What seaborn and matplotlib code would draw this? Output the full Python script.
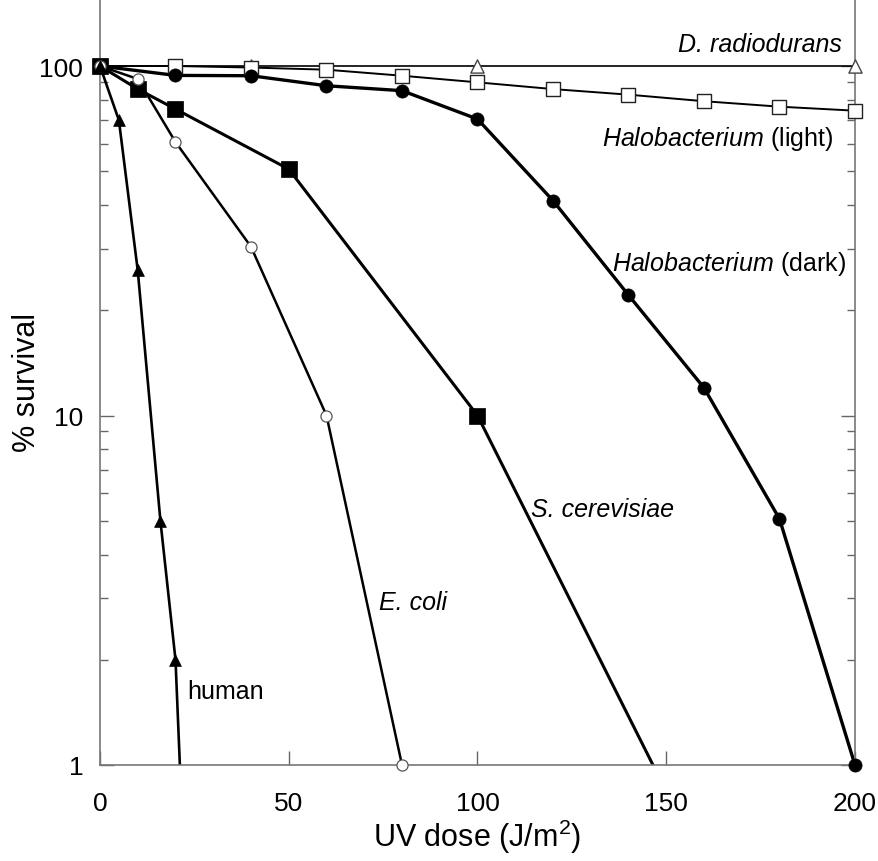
import pandas as pd
import matplotlib.pyplot as plt
import matplotlib.ticker as mticker
import seaborn as sns

# ==========================================
# 1. Survival data
# ==========================================
dose_drad = [0, 40, 100, 200]
surv_drad = [100, 100, 100, 100]

dose_halo_light = [0, 20, 40, 60, 80, 100, 120, 140, 160, 180, 200]
surv_halo_light = [100, 100, 99, 97.6, 93.8, 89.8, 85.9, 82.8, 79.3, 76.5, 74.5]

dose_halo_dark = [0, 20, 40, 60, 80, 100, 120, 140, 160, 180, 200]
surv_halo_dark = [100, 94, 93.8, 87.8, 85, 70.5, 41.2, 22.1, 12.0, 5.06, 1.0]

# last point lies below the axis (line leaves the plot at ~146 J/m2)
dose_scer = [0, 10, 20, 50, 100, 150]
surv_scer = [100, 85.9, 75.3, 50.7, 10, 0.84]

dose_ecoli = [0, 10, 20, 40, 60, 80]
surv_ecoli = [100, 91.8, 60.6, 30.4, 10, 1.0]

# last point lies below the axis (line leaves the plot at ~21 J/m2)
dose_human = [0, 5, 10, 16, 20, 25]
surv_human = [100, 70, 26, 5.0, 2.0, 0.1]

species = ['D. radiodurans', 'Halobacterium (light)', 'Halobacterium (dark)',
           'S. cerevisiae', 'E. coli', 'human']
doses = [dose_drad, dose_halo_light, dose_halo_dark, dose_scer, dose_ecoli, dose_human]
survs = [surv_drad, surv_halo_light, surv_halo_dark, surv_scer, surv_ecoli, surv_human]

df = pd.concat([pd.DataFrame({'species': s, 'dose': d, 'survival': v})
                for s, d, v in zip(species, doses, survs)], ignore_index=True)

# marker, size (pt), face, edge, edge width, line width
styles = {
    'D. radiodurans':        ('^', 9.5, 'white', '#444444', 1.0, 1.2),
    'Halobacterium (light)': ('s', 10.5, 'white', '#222222', 1.0, 1.4),
    'Halobacterium (dark)':  ('o', 9.5, 'black', 'black', 0.5, 2.4),
    'S. cerevisiae':         ('s', 11, 'black', 'black', 0.5, 2.2),
    'E. coli':               ('o', 8, 'white', '#555555', 0.9, 1.8),
    'human':                 ('^', 8.5, 'black', 'black', 0.5, 1.9),
}

# ==========================================
# 2. Style
# ==========================================
sns.set_style('ticks')
plt.rcParams['font.family'] = ['Liberation Sans', 'DejaVu Sans']
plt.rcParams['mathtext.fontset'] = 'custom'
plt.rcParams['mathtext.rm'] = 'Liberation Sans'
plt.rcParams['mathtext.it'] = 'Liberation Sans:italic'
plt.rcParams['text.color'] = 'black'
plt.rcParams['axes.labelcolor'] = 'black'
plt.rcParams['xtick.labelcolor'] = 'black'
plt.rcParams['ytick.labelcolor'] = 'black'

fig = plt.figure(figsize=(8.79, 8.62), dpi=100)
ax = fig.add_axes([100 / 879, 1 - 766 / 862, 755 / 879, 766 / 862])

# ==========================================
# 3. Lines and markers
# ==========================================
for name in species:
    marker, size, face, edge, ew, lw = styles[name]
    sub = df[df['species'] == name]
    sns.lineplot(data=sub, x='dose', y='survival', color='black', lw=lw,
                 estimator=None, sort=False, ax=ax, zorder=2)
    pts = sub[sub['survival'] >= 1]
    sns.scatterplot(data=pts, x='dose', y='survival', marker=marker, s=size ** 2,
                    color=face, edgecolor=edge, linewidth=ew, ax=ax,
                    clip_on=False, zorder=3)

ax.set_yscale('log')
ax.set_xlim(0, 200)
ax.set_ylim(1, 155.5)

ax.xaxis.set_major_locator(mticker.MultipleLocator(50))
ax.yaxis.set_major_locator(mticker.FixedLocator([1, 10, 100]))
ax.yaxis.set_major_formatter(mticker.FixedFormatter(['1', '10', '100']))
ax.yaxis.set_minor_locator(mticker.LogLocator(base=10, subs=range(2, 10)))
ax.yaxis.set_minor_formatter(mticker.NullFormatter())

ax.tick_params(axis='both', which='major', direction='in', length=10,
               width=1, color='#666666', labelsize=19)
ax.tick_params(axis='x', which='major', pad=19)
ax.tick_params(axis='y', which='both', left=True, right=True)
ax.tick_params(axis='y', which='minor', direction='in', length=6,
               width=1, color='#666666')
ax.tick_params(axis='y', which='major', pad=12)

for side in ['left', 'right', 'bottom']:
    ax.spines[side].set_color('#777777')
    ax.spines[side].set_linewidth(1.2)
ax.spines['top'].set_visible(False)

ax.set_xlabel('UV dose (J/m$^2$)', fontsize=22, labelpad=1)
ax.set_ylabel('% survival', fontsize=22, labelpad=-2)

# ==========================================
# 4. Curve labels
# ==========================================
lab = dict(fontsize=18, va='center')
ax.text(196.6, 115.6, 'D. radiodurans', style='italic', ha='right', **lab)
ax.text(194.2, 62.2, '$\\mathit{Halobacterium}$ (light)', ha='right', **lab)
ax.text(197.6, 27.3, '$\\mathit{Halobacterium}$ (dark)', ha='right', **lab)
ax.text(114.2, 5.4, 'S. cerevisiae', style='italic', ha='left', **lab)
ax.text(73.9, 2.92, 'E. coli', style='italic', ha='left', **lab)
ax.text(23.0, 1.63, 'human', ha='left', **lab)

fig.savefig('out.png', dpi=100)
